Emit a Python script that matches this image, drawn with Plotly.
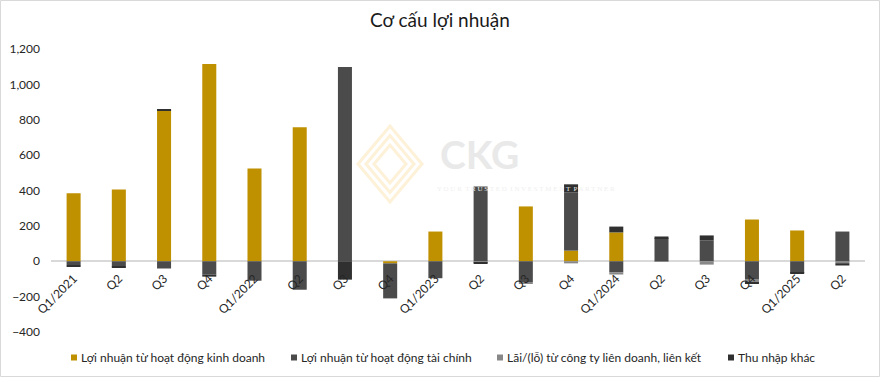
import plotly.graph_objects as go

categories = ["Q1/2021", "Q2/2021", "Q3/2021", "Q4/2021",
              "Q1/2022", "Q2/2022", "Q3/2022", "Q4/2022",
              "Q1/2023", "Q2/2023", "Q3/2023", "Q4/2023",
              "Q1/2024", "Q2/2024", "Q3/2024", "Q4/2024",
              "Q1/2025", "Q2/2025"]
tick_labels = ["Q1/2021", "Q2", "Q3", "Q4",
               "Q1/2022", "Q2", "Q3", "Q4",
               "Q1/2023", "Q2", "Q3", "Q4",
               "Q1/2024", "Q2", "Q3", "Q4",
               "Q1/2025", "Q2"]

operating = [384, 406, 854, 1115, 525, 758, 0, -12, 168, 0, 310, 60, 163, 0, 0, 236, 174, 0]
financial = [-22, -30, -41, -75, -110, -161, 1098, -198, -96, 423, -118, 330, -62, 130, 117, -104, -66, 168]
associate = [0, 0, 0, 0, 0, 0, 0, 0, 0, -8, -5, -12, -13, -4, -19, -16, 0, -11]
other = [-5, -6, 6, -12, 0, 0, -104, 0, 0, -6, 0, 45, 33, 10, 29, -5, -3, -13]

series_names = ["Lợi nhuận từ hoạt động kinh doanh",
                "Lợi nhuận từ hoạt động tài chính",
                "Lãi/(lỗ) từ công ty liên doanh, liên kết",
                "Thu nhập khác"]
series_values = [operating, financial, associate, other]
series_colors = ["#BF9000", "#4B4B4B", "#888888", "#303030"]

y_ticks = [-400, -200, 0, 200, 400, 600, 800, 1000, 1200]

FONT = "Lato, 'Liberation Sans', sans-serif"

# plot-area geometry in pixels (for decorations only)
L, R, T, B = 51, 15, 49, 45
W, H = 880, 377
PW, PH = W - L - R, H - T - B


def px(x):
    return (x - L) / PW


def py(y):
    return (H - B - y) / PH


fig = go.Figure()
for name, vals, col in zip(series_names, series_values, series_colors):
    fig.add_trace(go.Bar(x=categories, y=vals, name=name, marker_color=col,
                         marker_line_width=0, showlegend=False))

fig.update_layout(
    barmode="relative",
    bargap=0.69,
    width=W, height=H,
    margin=dict(l=L, r=R, t=T, b=B, autoexpand=False),
    paper_bgcolor="white", plot_bgcolor="white",
    font=dict(family=FONT, size=12, color="#262626"),
    title=dict(text="Cơ cấu lợi nhuận", x=0.5, xref="container", xanchor="center",
               y=0.945, yref="container", yanchor="middle", automargin=False,
               font=dict(family=FONT, size=19, color="#1a1a1a")),
    showlegend=False,
    xaxis=dict(type="category", tickmode="array", tickvals=categories, ticktext=tick_labels,
               tickangle=-45, showgrid=False, showline=False, zeroline=False,
               anchor="free", position=0.25, ticks="", automargin=False,
               ticklabelstandoff=7,
               tickfont=dict(size=12, color="#262626")),
    yaxis=dict(range=[-400, 1200], tickvals=y_ticks, tickformat=",", showgrid=False,
               zeroline=True, zerolinecolor="#D9D9D9", zerolinewidth=1.5,
               showline=False, ticks="", automargin=False, ticklabelstandoff=10,
               tickfont=dict(size=12, color="#262626")),
)

# legend drawn as coloured squares + text
legend_sq_x = [71, 291, 497, 728]
legend_y = 357.5
for name, col, sx in zip(series_names, series_colors, legend_sq_x):
    fig.add_shape(type="rect", xref="paper", yref="paper",
                  x0=px(sx), x1=px(sx + 6), y0=py(legend_y + 3), y1=py(legend_y - 3),
                  fillcolor=col, line_width=0)
    fig.add_annotation(text=name, x=px(sx + 8), y=py(legend_y), xref="paper", yref="paper",
                       xanchor="left", yanchor="middle", showarrow=False,
                       font=dict(family=FONT, size=12, color="#262626"))

# watermark
cx, cy = 390, 164
for k, (hw, hh) in enumerate([(32, 38), (24, 28.5), (16, 19)]):
    path = (f"M {px(cx - hw)} {py(cy)} L {px(cx)} {py(cy - hh)} "
            f"L {px(cx + hw)} {py(cy)} L {px(cx)} {py(cy + hh)} Z")
    fig.add_shape(type="path", xref="paper", yref="paper", path=path,
                  line=dict(color="#FDF1D8", width=3), layer="below")
fig.add_annotation(text="<b>CKG</b>", x=px(480), y=py(154), xref="paper", yref="paper",
                   showarrow=False, font=dict(family=FONT, size=39, color="#E9E9E9"))
fig.add_annotation(text="Y O U R  T R U S T E D  I N V E S T M E N T  P A R T N E R",
                   x=px(526), y=py(189), xref="paper", yref="paper", showarrow=False,
                   font=dict(family="Liberation Serif", size=7, color="#EFEFEF"))

# outer border
fig.add_shape(type="rect", xref="paper", yref="paper",
              x0=px(0.5), x1=px(W - 0.5), y0=py(H - 0.5), y1=py(0.5),
              line=dict(color="#D9D9D9", width=1), layer="below")

fig.write_html("out.html", config={"displayModeBar": False},
               post_script="document.body.style.margin='0';document.body.style.overflow='hidden';")
